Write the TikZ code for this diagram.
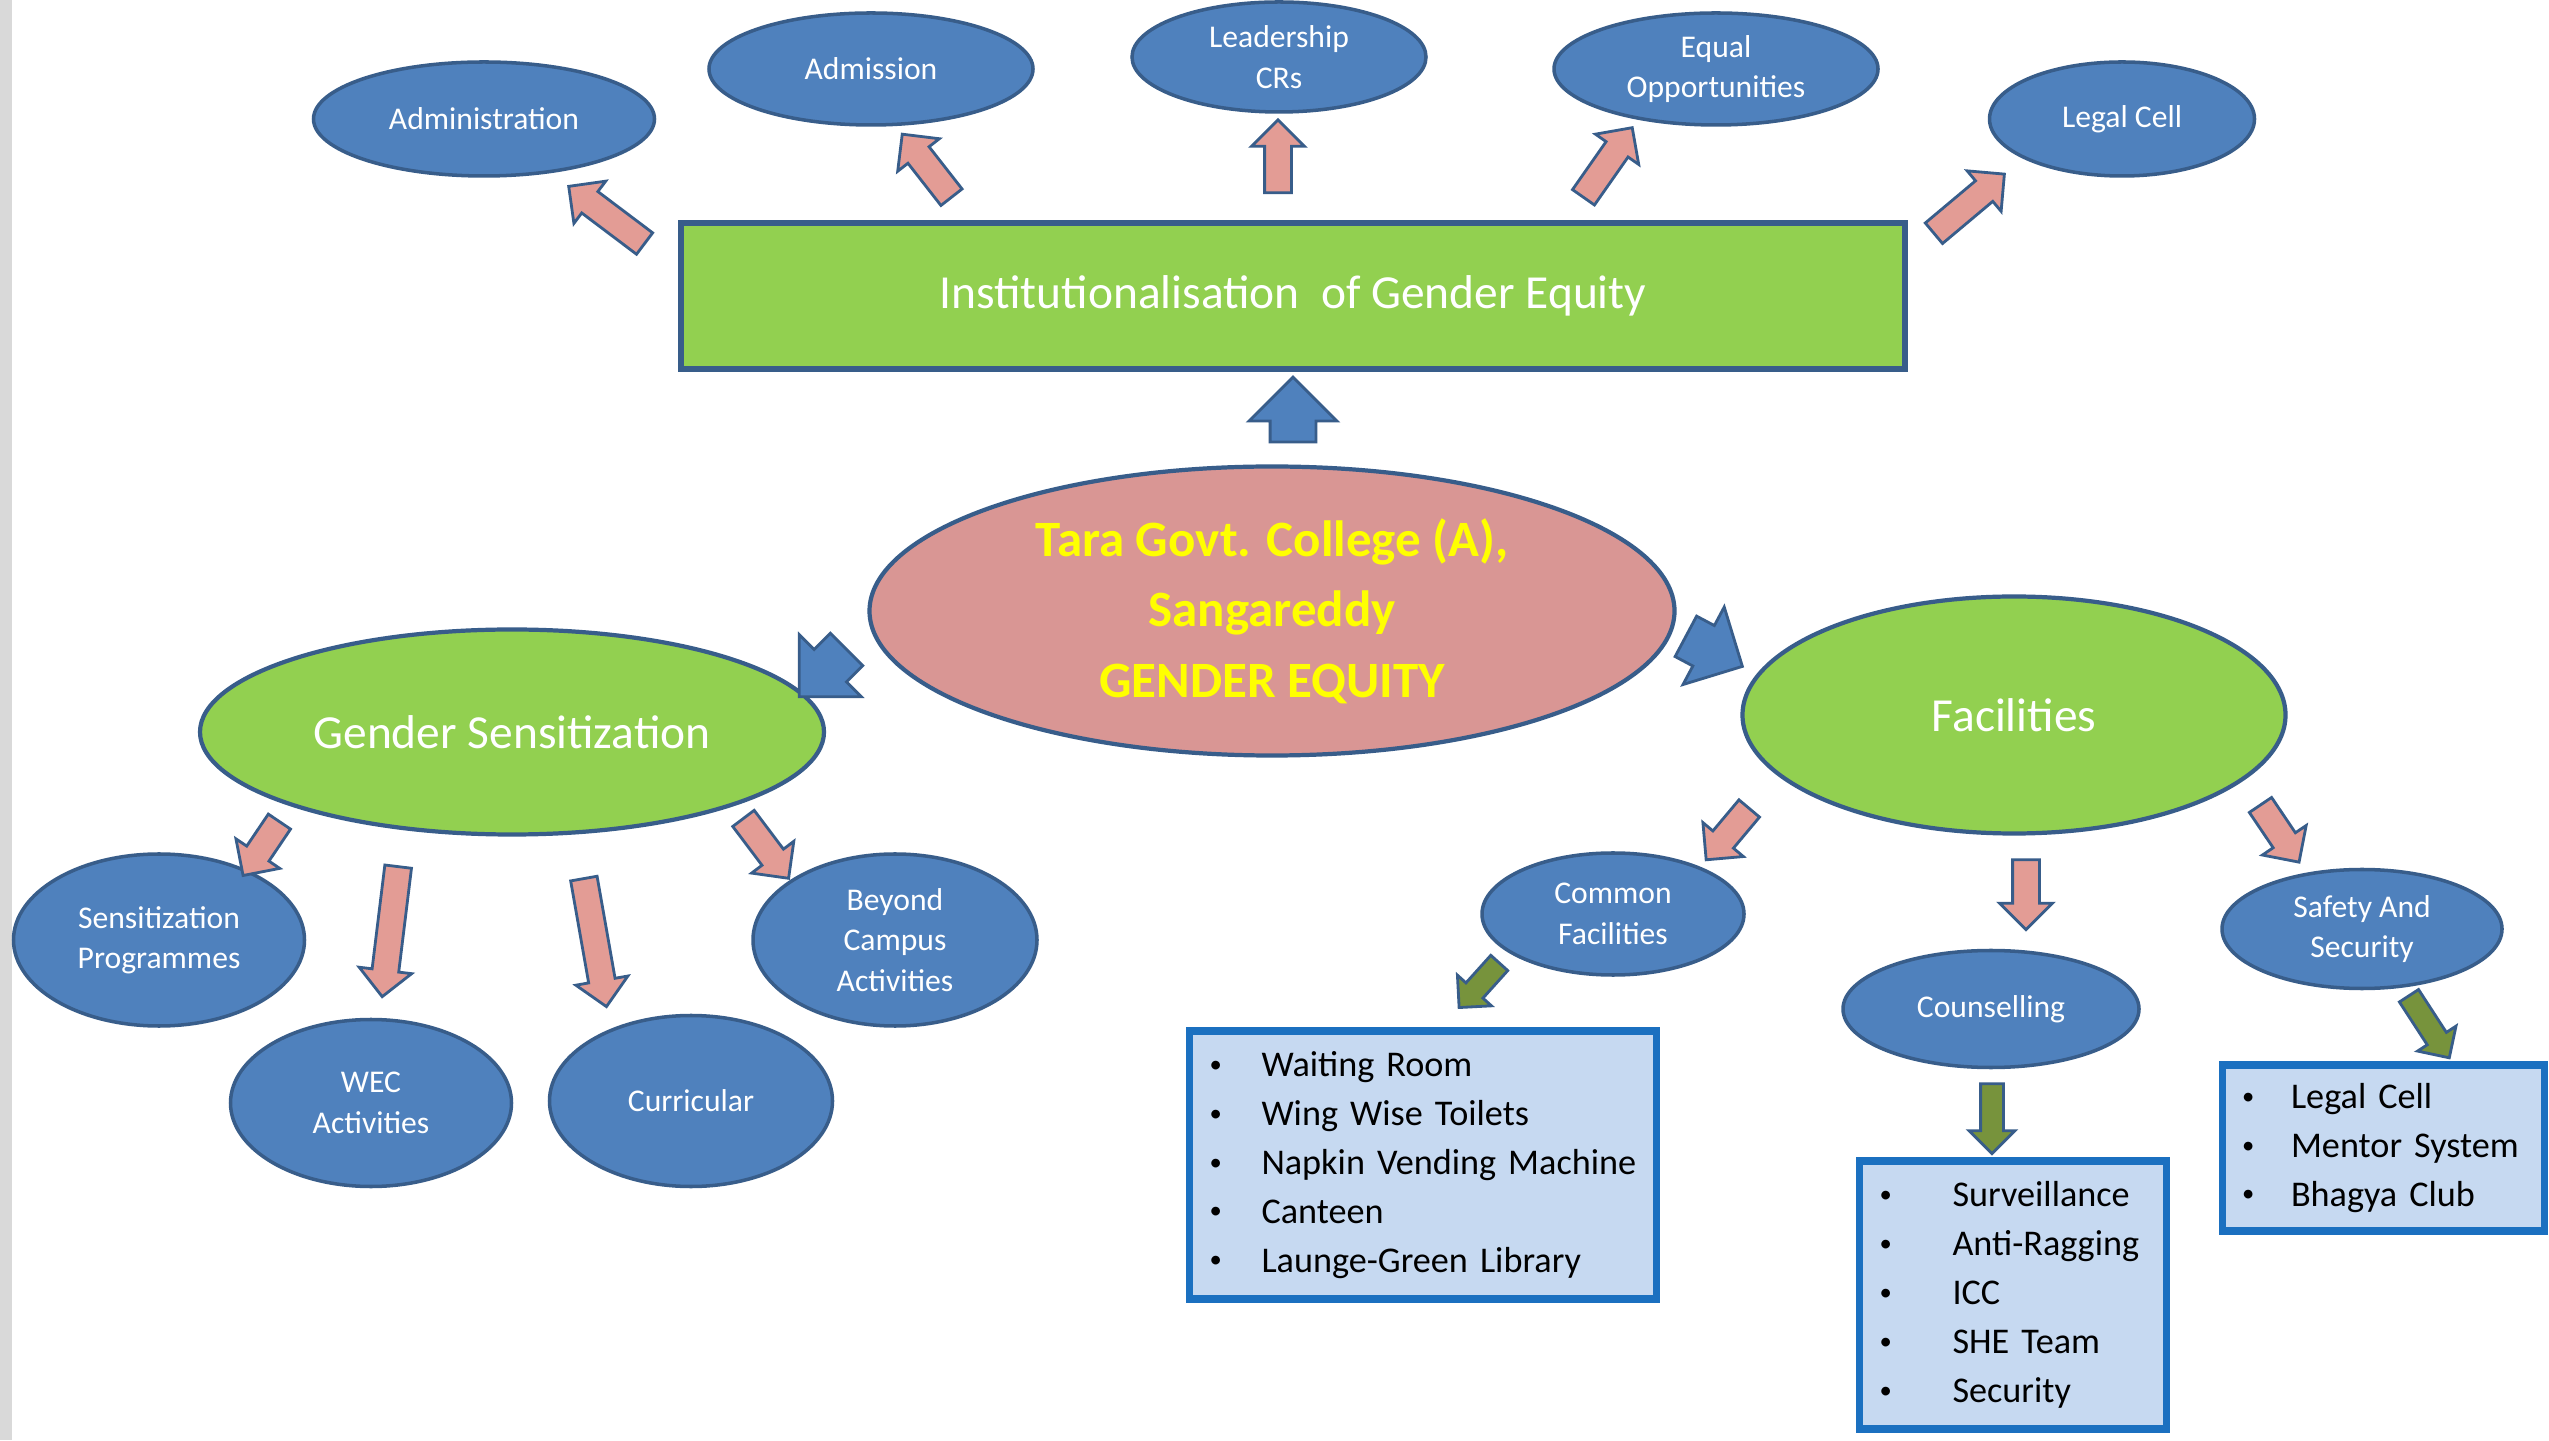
\documentclass[tikz,border=0pt]{standalone}
\usepackage{fontspec}
\setmainfont{Carlito}
\usetikzlibrary{positioning,shapes.geometric,shapes.arrows}

\definecolor{ovalblue}{HTML}{4F81BD}
\definecolor{edgeblue}{HTML}{385D8A}
\definecolor{leafgreen}{HTML}{92D050}
\definecolor{corepink}{HTML}{D99694}
\definecolor{arrowpink}{HTML}{E39C95}
\definecolor{arrowgreen}{HTML}{77933C}
\definecolor{boxfill}{HTML}{C6D9F1}
\definecolor{boxedge}{HTML}{1B70C0}
\definecolor{titleyellow}{HTML}{FFFF00}
\definecolor{stripgray}{HTML}{D9D9D9}

\newcommand{\bul}[1]{\makebox[#1][l]{\raisebox{0.12em}{\fontsize{7}{7}\selectfont\textbullet}}}

\begin{document}
\begin{tikzpicture}[
    oval/.style={ellipse, draw=edgeblue, line width=1pt, fill=ovalblue, text=white, inner sep=0pt, align=center, font=\fontsize{9}{11.5}\selectfont},
    bigoval/.style={ellipse, draw=edgeblue, line width=1.2pt, fill=leafgreen, text=white, inner sep=0pt, font=\fontsize{13.5}{16}\selectfont},
    listbox/.style={draw=boxedge, line width=2pt, fill=boxfill, inner xsep=0.2cm, inner ysep=0pt, align=left, font=\fontsize{10.3}{13.9}\selectfont},
    blockarrow/.style={single arrow, draw=edgeblue, line width=0.8pt, inner xsep=0pt, single arrow head indent=0pt, single arrow tip angle=90},
    pinkarrow/.style={blockarrow, fill=arrowpink, inner ysep=0.12cm, single arrow head extend=0.13cm},
    greenarrow/.style={blockarrow, fill=arrowgreen, inner ysep=0.1cm, single arrow head extend=0.115cm},
    bluearrow/.style={blockarrow, fill=ovalblue, inner ysep=0.215cm, single arrow head extend=0.21cm}
]

% --- Marco ---
\useasboundingbox (0,0) rectangle (25.49,14.40);
\fill[white] (0,0) rectangle (25.49,14.40);
\fill[stripgray] (0,0) rectangle (0.12,14.40);

% --- Fila superior ---
\node[oval, minimum width=3.41cm, minimum height=1.14cm] (admin) at (4.84,13.21) {Administration};
\node[oval, minimum width=3.24cm, minimum height=1.12cm] (admis) at (8.71,13.71) {Admission};
\node[oval, minimum width=2.94cm, minimum height=1.10cm] (lead) at (12.79,13.83) {Leadership\\CRs};
\node[oval, minimum width=3.24cm, minimum height=1.12cm] (equal) at (17.16,13.71) {Equal\\Opportunities};
\node[oval, minimum width=2.65cm, minimum height=1.14cm] (legal) at (21.22,13.21) {Legal Cell};

\node[draw=edgeblue, line width=1.5pt, fill=leafgreen, text=white, minimum width=12.24cm, minimum height=1.46cm, font=\fontsize{13.5}{16}\selectfont] (inst) at (12.93,11.44) {Institutionalisation\ \ of Gender Equity};

% --- Centro ---
\node[ellipse, draw=edgeblue, line width=1.2pt, fill=corepink, text=titleyellow, align=center, inner sep=0pt, minimum width=8.05cm, minimum height=2.89cm, font=\bfseries\fontsize{14.5}{20}\selectfont] (core) at (12.72,8.29) {Tara Govt. College (A),\\Sangareddy\\GENDER EQUITY};

\node[bigoval, minimum width=6.24cm, minimum height=2.05cm] (gsens) at (5.12,7.08) {Gender Sensitization};
\node[bigoval, minimum width=5.43cm, minimum height=2.37cm] (facil) at (20.14,7.25) {Facilities};

% --- Rama izquierda ---
\node[oval, minimum width=2.91cm, minimum height=1.72cm] (sprog) at (1.59,5.00) {Sensitization\\Programmes};
\node[oval, minimum width=2.81cm, minimum height=1.67cm] (wec) at (3.71,3.37) {WEC\\Activities};
\node[oval, minimum width=2.83cm, minimum height=1.71cm] (curr) at (6.91,3.39) {Curricular};
\node[oval, minimum width=2.84cm, minimum height=1.72cm] (beyond) at (8.95,5.00) {Beyond\\Campus\\Activities};

% --- Rama derecha ---
\node[oval, minimum width=2.62cm, minimum height=1.22cm] (common) at (16.13,5.26) {Common\\Facilities};
\node[oval, minimum width=2.96cm, minimum height=1.17cm] (couns) at (19.91,4.31) {Counselling};
\node[oval, minimum width=2.80cm, minimum height=1.19cm] (safety) at (23.62,5.11) {Safety And\\Security};

\node[listbox, text width=4.27cm, minimum height=2.68cm] (cfbox) at (14.23,2.75) {\bul{0.52cm}Waiting Room\\\bul{0.52cm}Wing Wise Toilets\\\bul{0.52cm}Napkin Vending Machine\\\bul{0.52cm}Canteen\\\bul{0.52cm}Launge-Green Library};
\node[listbox, text width=2.67cm, minimum height=2.68cm] (cobox) at (20.13,1.45) {\bul{0.73cm}Surveillance\\\bul{0.73cm}Anti-Ragging\\\bul{0.73cm}ICC\\\bul{0.73cm}SHE Team\\\bul{0.73cm}Security};
\node[listbox, text width=2.82cm, minimum height=1.66cm] (sfbox) at (23.83,2.92) {\bul{0.49cm}Legal Cell\\\bul{0.49cm}Mentor System\\\bul{0.49cm}Bhagya Club};

% --- Flechas: institucionalización ---
\node[pinkarrow, minimum height=0.95cm, rotate=143] (pAdmin) at (6.12,12.21) {};
\node[pinkarrow, minimum height=0.80cm, rotate=128] (pAdmis) at (9.31,12.69) {};
\node[pinkarrow, minimum height=0.73cm, rotate=90] (pLead) at (12.78,12.77) {};
\node[pinkarrow, minimum height=0.85cm, rotate=55] (pEqual) at (16.04,12.72) {};
\node[pinkarrow, minimum height=0.92cm, rotate=40] (pLegal) at (19.64,12.32) {};

% --- Flechas: centro ---
\node[bluearrow, minimum height=0.65cm, rotate=90] (bUp) at (12.93,10.19) {};
\node[bluearrow, minimum height=0.67cm, rotate=225] (bLeft) at (8.31,7.75) {};
\node[bluearrow, minimum height=0.64cm, rotate=-28] (bRight) at (17.04,7.94) {};

% --- Flechas: sensibilización ---
\node[pinkarrow, minimum height=0.65cm, rotate=236] (pSP) at (2.65,5.97) {};
\node[pinkarrow, minimum height=1.31cm, rotate=263] (pWEC) at (3.91,5.15) {};
\node[pinkarrow, minimum height=1.30cm, rotate=280] (pCur) at (5.94,5.04) {};
\node[pinkarrow, minimum height=0.75cm, rotate=307] (pBey) at (7.62,5.97) {};

% --- Flechas: instalaciones ---
\node[pinkarrow, minimum height=0.67cm, rotate=230] (pCF) at (17.32,6.11) {};
\node[pinkarrow, minimum height=0.70cm, rotate=270] (pCoun) at (20.26,5.52) {};
\node[pinkarrow, minimum height=0.69cm, rotate=304] (pSaf) at (22.76,6.12) {};

\node[greenarrow, minimum height=0.60cm, rotate=228] (gCF) at (14.83,4.59) {};
\node[greenarrow, minimum height=0.70cm, rotate=270] (gCoun) at (19.92,3.27) {};
\node[greenarrow, minimum height=0.74cm, rotate=303] (gSaf) at (24.26,4.18) {};

\end{tikzpicture}
\end{document}
